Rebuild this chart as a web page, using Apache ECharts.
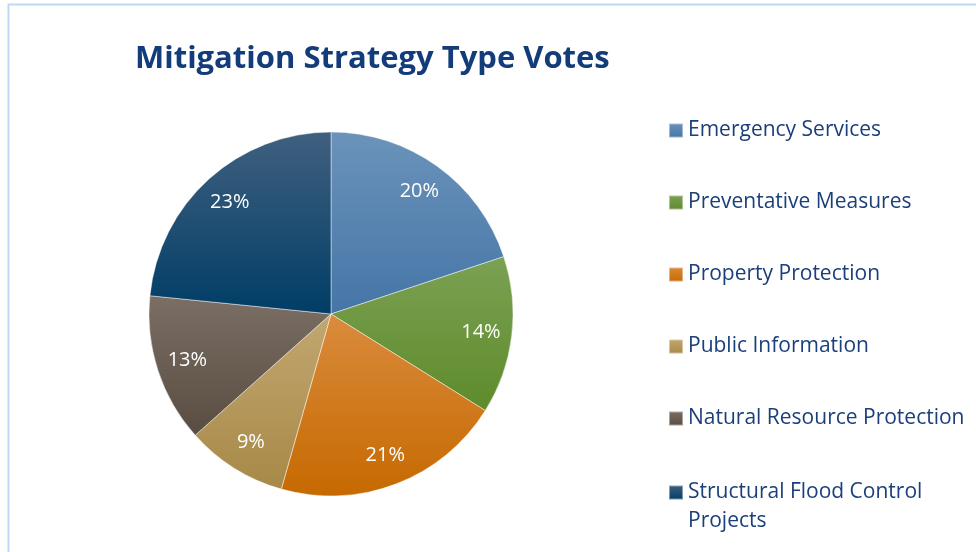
<!DOCTYPE html>
<html><head><meta charset="utf-8">
<script src="https://cdn.jsdelivr.net/npm/echarts@6/dist/echarts.min.js"></script>
<style>html,body{margin:0;padding:0;background:#fff}#c{width:976px;height:552px}</style>
</head><body><div id="c"></div>
<script>
const categories = ['Emergency Services','Preventative Measures','Property Protection','Public Information','Natural Resource Protection','Structural Flood Control Projects'];
const values = [19.9, 14.0, 20.5, 9.0, 13.2, 23.4];
const topColors = ['#6B93BA','#7BA153','#DA8B3D','#C2A770','#7B6F65','#40607F'];
const bottomColors = ['#4575A7','#5E8B2B','#C66900','#A78947','#594C41','#003D66'];

const grad = (i) => new echarts.graphic.LinearGradient(0,0,0,1,[{offset:0,color:topColors[i]},{offset:1,color:bottomColors[i]}]);
const pieData = categories.map((n,i)=>({name:n,value:values[i],itemStyle:{color:grad(i)}}));
const labelData = categories.map((n,i)=>({name:n,value:values[i]}));
const font = '"Open Sans", "Noto Sans", sans-serif';
const legendText = {fontFamily:font,fontSize:21,color:'#1B3F7B',lineHeight:29};
const chart = echarts.init(document.getElementById('c'));
chart.setOption({
  backgroundColor:'#fff',
  animation:false,
  graphic:[{type:'rect',shape:{x:8.5,y:4.5,width:1100,height:700},style:{fill:'none',stroke:'#BFD8F6',lineWidth:2},silent:true}],
  title:{text:'Mitigation Strategy Type Votes',left:135,top:44,padding:0,textStyle:{fontFamily:font,fontWeight:'bold',fontSize:31,color:'#123C7A'}},
  legend:[{
    orient:'vertical',left:668,top:116,padding:0,itemWidth:14,itemHeight:14,itemGap:43,
    data:categories.slice(0,5),icon:'rect',
    textStyle:legendText,
    selectedMode:false
  },{
    orient:'vertical',left:668,top:449,padding:0,itemWidth:14,itemHeight:14,
    data:categories.slice(5),icon:'rect',
    formatter:(n)=>'\n'+n.replace('Control ','Control\n'),
    textStyle:legendText,
    selectedMode:false
  }],
  series:[{
    type:'pie',center:[331,314],radius:[0,182],startAngle:90,clockwise:true,
    data:pieData,label:{show:false},labelLine:{show:false},
    itemStyle:{borderColor:'rgba(255,255,255,0.45)',borderWidth:1},
    emphasis:{disabled:true}
  },{
    type:'pie',center:[331,314],radius:[114,182],startAngle:90,clockwise:true,silent:true,
    data:labelData,itemStyle:{color:'rgba(0,0,0,0)'},labelLine:{show:false},
    label:{show:true,position:'inside',formatter:(p)=>Math.round(p.value)+'%',color:'#fff',fontFamily:font,fontSize:20},
    emphasis:{disabled:true}
  }]
});
</script></body></html>
